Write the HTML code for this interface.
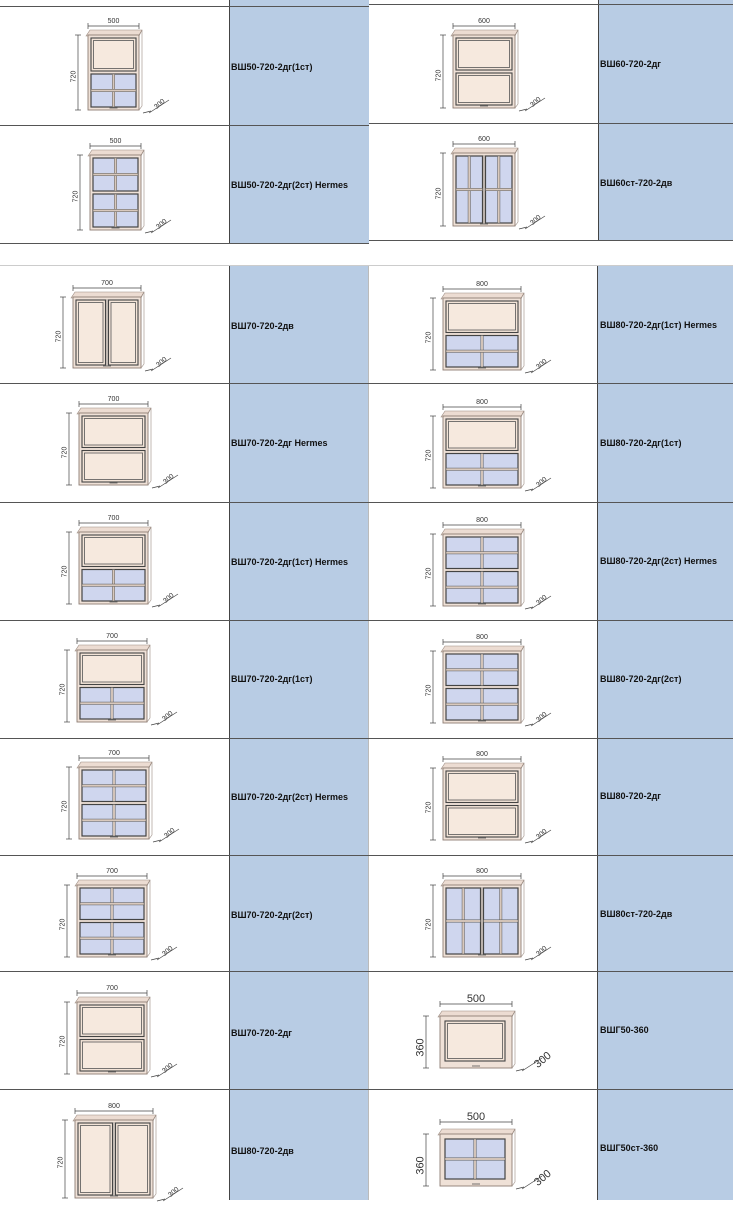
<!DOCTYPE html>
<html><head><meta charset="utf-8"><style>
body{margin:0;width:733px;height:1200px;position:relative;background:#fff;overflow:hidden;font-family:"Liberation Sans","DejaVu Sans",sans-serif}
.blue{position:absolute;background:#b8cce4}
.hl{position:absolute;height:1px;background:#555}
.vl{position:absolute;width:1px;background:#444}
.lab{position:absolute;font-weight:bold;font-size:9px;color:#111;white-space:nowrap}
.cab{position:absolute}
.cab svg{position:absolute;left:-30px;top:-30px;overflow:visible}
.cab i{position:absolute;font-style:normal;font-size:7px;color:#333;line-height:1}
.cab i.w{top:-17px;left:0;width:100%;text-align:center}
.cab i.h{top:50%;left:-20px;transform:rotate(-90deg);transform-origin:center}
.cab i.d{bottom:2px;right:-27px;transform:rotate(-40deg)}
.big i{font-size:11px}
.big i.w{top:-22px}
.big i.h{left:-28px}
.big i.d{right:-40px}
</style></head><body>
<!-- blue label cells -->
<div class="blue" style="left:230px;top:0;width:139px;height:243px"></div>
<div class="blue" style="left:599px;top:0;width:134px;height:240px"></div>
<div class="blue" style="left:230px;top:265px;width:139px;height:935px"></div>
<div class="blue" style="left:598px;top:265px;width:135px;height:935px"></div>
<!-- vertical lines -->
<div class="vl" style="left:229px;top:0;height:243px"></div>
<div class="vl" style="left:598px;top:0;height:240px"></div>
<div class="vl" style="left:229px;top:265px;height:935px"></div>
<div class="vl" style="left:597px;top:265px;height:935px"></div>
<div class="vl" style="left:368px;top:265px;height:935px;background:#bbb"></div>
<!-- horizontal lines -->
<div class="hl" style="left:0;top:6px;width:369px"></div>
<div class="hl" style="left:0;top:125px;width:369px"></div>
<div class="hl" style="left:0;top:243px;width:369px"></div>
<div class="hl" style="left:369px;top:4px;width:364px"></div>
<div class="hl" style="left:369px;top:123px;width:364px"></div>
<div class="hl" style="left:369px;top:240px;width:364px"></div>
<div class="hl" style="left:0;top:265px;width:733px;background:#ccc"></div>
<div class="hl" style="left:0;top:383px;width:733px"></div>
<div class="hl" style="left:0;top:502px;width:733px"></div>
<div class="hl" style="left:0;top:620px;width:733px"></div>
<div class="hl" style="left:0;top:738px;width:733px"></div>
<div class="hl" style="left:0;top:855px;width:733px"></div>
<div class="hl" style="left:0;top:971px;width:733px"></div>
<div class="hl" style="left:0;top:1089px;width:733px"></div>

<!-- labels -->
<div class="lab" style="left:231px;top:62px">ВШ50-720-2дг(1ст)</div>
<div class="lab" style="left:231px;top:180px">ВШ50-720-2дг(2ст) Hermes</div>
<div class="lab" style="left:600px;top:59px">ВШ60-720-2дг</div>
<div class="lab" style="left:600px;top:178px">ВШ60ст-720-2дв</div>
<div class="lab" style="left:231px;top:321px">ВШ70-720-2дв</div>
<div class="lab" style="left:231px;top:438px">ВШ70-720-2дг Hermes</div>
<div class="lab" style="left:231px;top:557px">ВШ70-720-2дг(1ст) Hermes</div>
<div class="lab" style="left:231px;top:674px">ВШ70-720-2дг(1ст)</div>
<div class="lab" style="left:231px;top:792px">ВШ70-720-2дг(2ст) Hermes</div>
<div class="lab" style="left:231px;top:910px">ВШ70-720-2дг(2ст)</div>
<div class="lab" style="left:231px;top:1028px">ВШ70-720-2дг</div>
<div class="lab" style="left:231px;top:1146px">ВШ80-720-2дв</div>
<div class="lab" style="left:600px;top:320px">ВШ80-720-2дг(1ст) Hermes</div>
<div class="lab" style="left:600px;top:438px">ВШ80-720-2дг(1ст)</div>
<div class="lab" style="left:600px;top:556px">ВШ80-720-2дг(2ст) Hermes</div>
<div class="lab" style="left:600px;top:674px">ВШ80-720-2дг(2ст)</div>
<div class="lab" style="left:600px;top:791px">ВШ80-720-2дг</div>
<div class="lab" style="left:600px;top:909px">ВШ80ст-720-2дв</div>
<div class="lab" style="left:600px;top:1025px">ВШГ50-360</div>
<div class="lab" style="left:600px;top:1143px">ВШГ50ст-360</div>

<!-- cabinets -->
<div class="cab t1g" style="left:88px;top:35px;width:51px;height:75px"><i class="w">500</i><i class="h">720</i><i class="d">300</i></div>
<div class="cab t2g" style="left:90px;top:155px;width:51px;height:75px"><i class="w">500</i><i class="h">720</i><i class="d">300</i></div>
<div class="cab tpp" style="left:453px;top:35px;width:62px;height:73px"><i class="w">600</i><i class="h">720</i><i class="d">300</i></div>
<div class="cab tvg" style="left:453px;top:153px;width:62px;height:73px"><i class="w">600</i><i class="h">720</i><i class="d">300</i></div>

<div class="cab tvp" style="left:73px;top:297px;width:68px;height:71px"><i class="w">700</i><i class="h">720</i><i class="d">300</i></div>
<div class="cab tpp" style="left:79px;top:413px;width:69px;height:72px"><i class="w">700</i><i class="h">720</i><i class="d">300</i></div>
<div class="cab t1g" style="left:79px;top:532px;width:69px;height:72px"><i class="w">700</i><i class="h">720</i><i class="d">300</i></div>
<div class="cab t1g" style="left:77px;top:650px;width:70px;height:72px"><i class="w">700</i><i class="h">720</i><i class="d">300</i></div>
<div class="cab t2g" style="left:79px;top:767px;width:70px;height:72px"><i class="w">700</i><i class="h">720</i><i class="d">300</i></div>
<div class="cab t2g" style="left:77px;top:885px;width:70px;height:72px"><i class="w">700</i><i class="h">720</i><i class="d">300</i></div>
<div class="cab tpp" style="left:77px;top:1002px;width:70px;height:72px"><i class="w">700</i><i class="h">720</i><i class="d">300</i></div>
<div class="cab tvp" style="left:75px;top:1120px;width:78px;height:78px"><i class="w">800</i><i class="h">720</i><i class="d">300</i></div>

<div class="cab t1g" style="left:443px;top:298px;width:78px;height:72px"><i class="w">800</i><i class="h">720</i><i class="d">300</i></div>
<div class="cab t1g" style="left:443px;top:416px;width:78px;height:72px"><i class="w">800</i><i class="h">720</i><i class="d">300</i></div>
<div class="cab t2g" style="left:443px;top:534px;width:78px;height:72px"><i class="w">800</i><i class="h">720</i><i class="d">300</i></div>
<div class="cab t2g" style="left:443px;top:651px;width:78px;height:72px"><i class="w">800</i><i class="h">720</i><i class="d">300</i></div>
<div class="cab tpp" style="left:443px;top:768px;width:78px;height:72px"><i class="w">800</i><i class="h">720</i><i class="d">300</i></div>
<div class="cab tvg" style="left:443px;top:885px;width:78px;height:72px"><i class="w">800</i><i class="h">720</i><i class="d">300</i></div>
<div class="cab big t1p" style="left:440px;top:1016px;width:72px;height:52px"><i class="w">500</i><i class="h">360</i><i class="d">300</i></div>
<div class="cab big t1gl" style="left:440px;top:1134px;width:72px;height:52px"><i class="w">500</i><i class="h">360</i><i class="d">300</i></div>

<script>
var NS="http://www.w3.org/2000/svg";
document.querySelectorAll('.cab').forEach(function(c){
  var w=parseFloat(c.style.width),h=parseFloat(c.style.height),o=30;
  var big=c.classList.contains('big');
  var s='';
  function R(x,y,ww,hh,f,st,sw){s+='<rect x="'+(x+o)+'" y="'+(y+o)+'" width="'+ww+'" height="'+hh+'" fill="'+f+'" stroke="'+st+'" stroke-width="'+(sw||0.8)+'"/>';}
  function L(x1,y1,x2,y2,st,sw){s+='<line x1="'+(x1+o)+'" y1="'+(y1+o)+'" x2="'+(x2+o)+'" y2="'+(y2+o)+'" stroke="'+(st||'#444')+'" stroke-width="'+(sw||0.7)+'"/>';}
  // dimension lines
  var dy=big?-12:-9;
  L(0,dy,w,dy);L(0,dy-3,0,dy+3);L(w,dy-3,w,dy+3);
  var dx=big?-14:-10;
  L(dx,0,dx,h);L(dx-3,0,dx+3,0);L(dx-3,h,dx+3,h);
  L(w+4,h+3,w+12,h+1);L(w+10,h+3,w+30,h-10);
  // top rim
  s+='<polygon points="'+(o-2)+','+(o+1)+' '+(o+2)+','+(o-5)+' '+(o+w+3)+','+(o-5)+' '+(o+w)+','+(o+1)+'" fill="#ecdcd2" stroke="#9a8a80" stroke-width="0.6"/>';
  R(0,0,w,h,'#efe1d7','#8d7d73',0.9);
  L(w,0,w+3,-5,'#9a8a80',0.6);L(w,h,w+3,h-4,'#9a8a80',0.6);L(w+3,-5,w+3,h-4,'#9a8a80',0.6);
  function panel(x,y,ww,hh){R(x,y,ww,hh,'#f3e4d8','#444',1.1);R(x+2.5,y+2.5,ww-5,hh-5,'#f6e9de','#555',0.8);}
  function glass(x,y,ww,hh,cols,rows){R(x,y,ww,hh,'#cfd6ee','#444',1.2);
    for(var i=1;i<cols;i++)R(x+ww*i/cols-1.2,y,2.4,hh,'#d9c9bd','#555',0.5);
    for(var j=1;j<rows;j++)R(x,y+hh*j/rows-1.2,ww,2.4,'#d9c9bd','#555',0.5);}
  var p=3, half=(h-p*3)/2;
  var t=c.className;
  if(/\bt1g\b/.test(t)){panel(p,p,w-2*p,half);glass(p,p*2+half,w-2*p,half,2,2);}
  else if(/\bt2g\b/.test(t)){glass(p,p,w-2*p,half,2,2);glass(p,p*2+half,w-2*p,half,2,2);}
  else if(/\btpp\b/.test(t)){panel(p,p,w-2*p,half);panel(p,p*2+half,w-2*p,half);}
  else if(/\btvp\b/.test(t)){var hw=(w-3*p)/2;panel(p,p,hw,h-2*p);panel(2*p+hw,p,hw,h-2*p);L(w/2,2,w/2,h-2,'#777',0.6);}
  else if(/\btvg\b/.test(t)){var hw=(w-3*p)/2;glass(p,p,hw,h-2*p,2,2);glass(2*p+hw,p,hw,h-2*p,2,2);L(w/2,2,w/2,h-2,'#777',0.6);}
  else if(/\bt1p\b/.test(t)){panel(5,5,w-12,h-12);}
  else if(/\bt1gl\b/.test(t)){glass(5,5,w-12,h-12,2,2);}
  // handle
  L(w/2-4,h-2,w/2+4,h-2,'#555',0.8);
  var svg='<svg xmlns="'+NS+'" width="'+(w+80)+'" height="'+(h+60)+'">'+s+'</svg>';
  c.insertAdjacentHTML('afterbegin',svg);
});
</script>
</body></html>
